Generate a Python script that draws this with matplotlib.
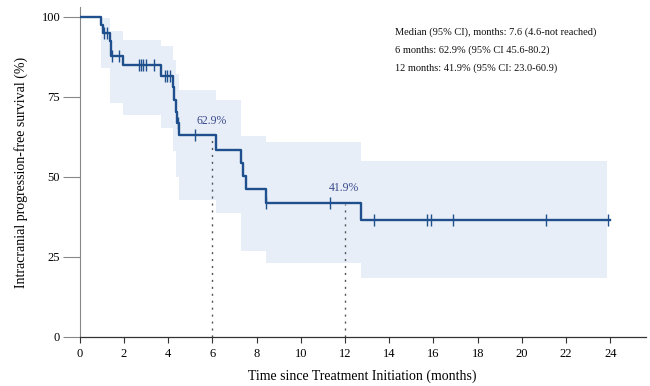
import matplotlib
matplotlib.use('Agg')
import matplotlib.pyplot as plt
import numpy as np

# Kaplan-Meier estimate (months, % survival)
event_times = [0, 0.95, 1.05, 1.37, 1.42, 1.97, 3.67, 4.20, 4.27, 4.35, 4.41, 4.50,
               6.15, 7.31, 7.38, 7.54, 8.41, 12.72, 24.0]
survival = [100, 97.5, 95.0, 92.4, 87.6, 85.0, 81.3, 78.0, 74.0, 70.2, 66.8, 62.9,
            58.5, 54.3, 50.1, 46.1, 41.9, 36.6, 36.6]

# censored observations
censor_times = [1.12, 1.25, 1.47, 1.80, 2.69, 2.76, 2.86, 3.02, 3.37, 3.85, 3.96, 4.08,
                4.45, 5.20, 8.41, 11.33, 13.32, 15.70, 15.90, 16.89, 21.11, 23.90]

# 95% confidence band
band_times = [0.95, 1.37, 1.97, 3.67, 4.20, 4.35, 4.50, 6.15, 7.31, 8.41, 12.72, 23.85]
band_upper = [99.5, 95.5, 92.8, 90.7, 86.5, 82.0, 77.2, 74.0, 62.6, 61.0, 54.8, 54.8]
band_lower = [84.0, 73.0, 69.4, 65.3, 58.0, 50.0, 42.8, 38.8, 26.7, 23.0, 18.4, 18.4]

landmarks = [6, 12]
landmark_labels = ['62.9%', '41.9%']

summary_lines = [
    'Median (95% CI), months: 7.6 (4.6-not reached)',
    '6 months: 62.9% (95% CI 45.6-80.2)',
    '12 months: 41.9% (95% CI: 23.0-60.9)',
]

x_ticks = list(range(0, 25, 2))
y_ticks = [0, 25, 50, 75, 100]


def surv_at(t):
    idx = np.searchsorted(event_times, t, side='right') - 1
    return np.array(survival)[idx]


plt.rcParams['font.family'] = ['Liberation Serif', 'DejaVu Serif']

fig = plt.figure(figsize=(6.5, 3.86), dpi=100)
ax = fig.add_axes([0.1225, 0.127, 0.871, 0.855])

line_col = '#1f4f8c'
band_col = '#e7eef8'

ax.fill_between(band_times, band_lower, band_upper, step='post', color=band_col, lw=0, zorder=1)
ax.step(event_times, survival, where='post', color=line_col, lw=1.7, zorder=3)
ax.plot(censor_times, surv_at(censor_times), ls='none', marker='|', ms=8, mew=1.0,
        color=line_col, zorder=4)

for t, lab in zip(landmarks, landmark_labels):
    s = surv_at(t)
    ax.vlines(t, 0, s - 0.5, colors='#555555', linestyles=(0, (1.5, 3.5)), lw=1.0, zorder=2)
    ax.text(t - 0.05, s + 4.5, lab, ha='center', va='center', fontsize=8.5, color='#3a4a8c', zorder=5)

for i, txt in enumerate(summary_lines):
    ax.text(14.25, 95 - i * 5.5, txt, ha='left', va='center', fontsize=7.5, color='#111111')

ax.set_xlim(0, 25.6)
ax.set_ylim(0, 103)
ax.set_xticks(x_ticks)
ax.set_yticks(y_ticks)
ax.tick_params(axis='x', length=4, width=0.8, color='#333333', labelsize=9, pad=4)
ax.tick_params(axis='y', length=12, width=0.8, color='#888888', labelsize=9, pad=2)
ax.spines['top'].set_visible(False)
ax.spines['right'].set_visible(False)
ax.spines['left'].set_color('#888888')
ax.spines['left'].set_linewidth(0.8)
ax.spines['bottom'].set_color('#333333')
ax.spines['bottom'].set_linewidth(0.9)

ax.set_xlabel('Time since Treatment Initiation (months)', fontsize=10, labelpad=7)
ax.set_ylabel('Intracranial progression-free survival (%)', fontsize=10, labelpad=10)

fig.savefig('out.png', dpi=100)
